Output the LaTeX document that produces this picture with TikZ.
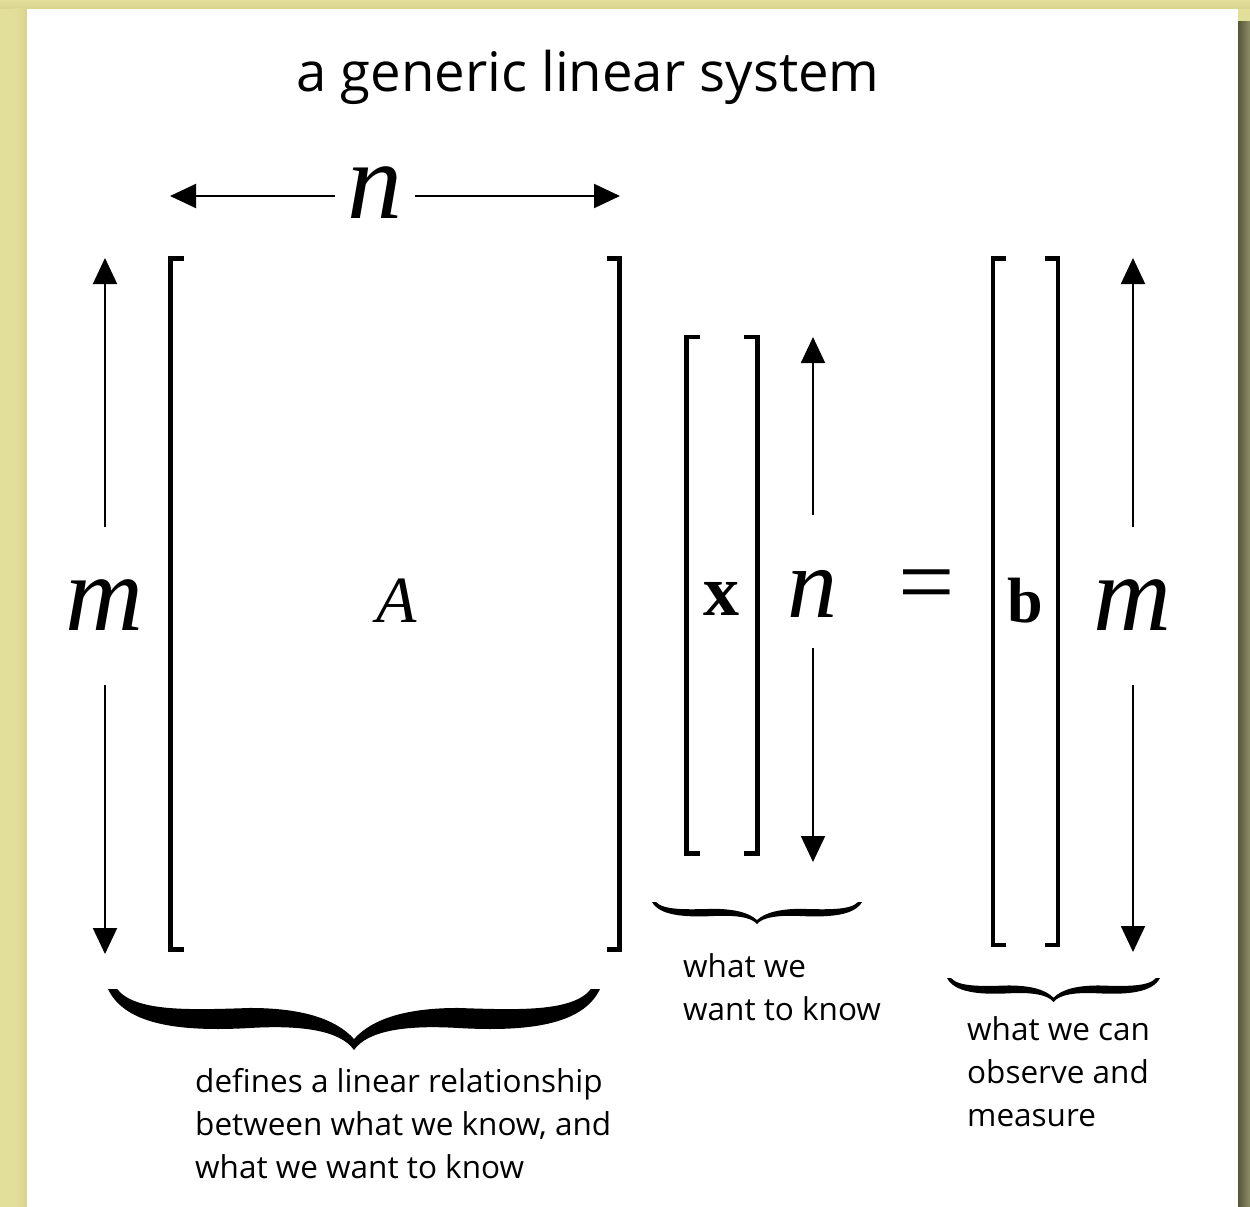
\documentclass[tikz,border=0pt]{standalone}
\usepackage{fontspec}
\newfontfamily\comicf{Open Sans}
\newfontfamily\tmsf{Liberation Serif}
\usetikzlibrary{arrows.meta}
\definecolor{bgkhaki}{HTML}{E2DF9B}
\definecolor{bgtop}{HTML}{D8D48F}
\definecolor{shdark}{HTML}{56563B}
\definecolor{shlight}{HTML}{8E8E68}
\newcommand\mybrace[4]{%
 \begin{scope}[shift={(#1,#2)}, xscale=#3, yscale=#4]
 \fill (-1,0) .. controls (-0.931,0.59) and (-0.707,0.705) .. (-0.423,0.639)
   .. controls (-0.22,0.59) and (-0.057,0.672) .. (0,1)
   .. controls (0.057,0.672) and (0.22,0.59) .. (0.423,0.639)
   .. controls (0.707,0.705) and (0.931,0.59) .. (1,0)
   -- (0.963,0) .. controls (0.89,0.377) and (0.667,0.344) .. (0.423,0.311)
   .. controls (0.22,0.311) and (0.077,0.475) .. (0,0.82)
   .. controls (-0.077,0.475) and (-0.22,0.311) .. (-0.423,0.311)
   .. controls (-0.667,0.344) and (-0.89,0.377) .. (-0.963,0) -- cycle;
 \end{scope}}
\begin{document}
\begin{tikzpicture}[x=1pt,y=-1pt,
  arr/.style={line width=2pt,-{Triangle[length=26pt,width=24pt]}},
  brk/.style={line width=4.5pt,line join=miter},
  titlef/.style={font=\comicf\fontsize{54.5}{64}\selectfont,inner sep=0pt},
  txt/.style={font=\comicf\fontsize{31.5}{43}\selectfont,align=left,inner sep=0pt},
  mit/.style={inner sep=0pt},
]
\useasboundingbox (0,0) rectangle (1250,1207);
\fill[bgkhaki] (0,0) rectangle (1250,1207);
\shade[top color=bgkhaki,bottom color=bgtop] (0,0) rectangle (1250,9);
\shade[left color=bgkhaki,right color=bgtop] (15,9) rectangle (27,1207);
\shade[left color=shdark,right color=shlight] (1238,22) rectangle (1250,1207);
\fill[white] (27,9) rectangle (1238,1207);

% title
\node[titlef,anchor=base] (title) at (588,92) {a generic linear system};

% math letters
\node[mit,font=\tmsf\itshape\fontsize{110}{110}\selectfont,anchor=base] (ntop) at (375,218) {n};
\node[mit,font=\tmsf\itshape\fontsize{108}{108}\selectfont,anchor=base] (mleft) at (104,630) {m};
\node[mit,font=\tmsf\itshape\fontsize{66}{66}\selectfont,anchor=base] (A) at (397,622) {A};
\node[mit,font=\tmsf\bfseries\fontsize{72}{72}\selectfont,anchor=base] (xv) at (721,615) {x};
\node[mit,font=\tmsf\itshape\fontsize{100}{100}\selectfont,anchor=base] (nside) at (812,617) {n};
\node[mit,font=\tmsf\fontsize{100}{100}\selectfont,anchor=base] (eq) at (927,615) {=};
\node[mit,font=\tmsf\bfseries\fontsize{64}{64}\selectfont,anchor=base] (bv) at (1025,622) {b};
\node[mit,font=\tmsf\itshape\fontsize{108}{108}\selectfont,anchor=base] (mright) at (1132,630) {m};

% top n arrows
\coordinate (ntopL) at (335,196); \coordinate (ntopR) at (415,196);
\coordinate (tipTL) at (170,196); \coordinate (tipTR) at (620,196);
\draw[arr] (ntopL) -- (tipTL);
\draw[arr] (ntopR) -- (tipTR);

% left m arrows
\coordinate (mlU) at (105,527); \coordinate (mlD) at (105,685);
\coordinate (tipLU) at (105,258); \coordinate (tipLD) at (105,954);
\draw[arr] (mlU) -- (tipLU);
\draw[arr] (mlD) -- (tipLD);

% side n arrows
\coordinate (nsU) at (813,515); \coordinate (nsD) at (813,648);
\coordinate (tipNU) at (813,337); \coordinate (tipND) at (813,862);
\draw[arr] (nsU) -- (tipNU);
\draw[arr] (nsD) -- (tipND);

% right m arrows
\coordinate (mrU) at (1133,527); \coordinate (mrD) at (1133,685);
\coordinate (tipRU) at (1133,258); \coordinate (tipRD) at (1133,952);
\draw[arr] (mrU) -- (tipRU);
\draw[arr] (mrD) -- (tipRD);

% brackets A
\draw[brk] (183.5,258.5) -- (170.5,258.5) -- (170.5,949.5) -- (183.5,949.5);
\draw[brk] (607,258.5) -- (619.5,258.5) -- (619.5,949.5) -- (607,949.5);
% brackets x
\draw[brk] (700,337) -- (686.5,337) -- (686.5,853.5) -- (700,853.5);
\draw[brk] (744,337) -- (757.5,337) -- (757.5,853.5) -- (744,853.5);
% brackets b
\draw[brk] (1006,258.5) -- (993,258.5) -- (993,945) -- (1006,945);
\draw[brk] (1045,258.5) -- (1058,258.5) -- (1058,945) -- (1045,945);

% braces
\mybrace{354}{989}{246}{61}
\mybrace{757}{902}{105}{22}
\mybrace{1053.5}{978}{106.5}{24}

% captions (base = baseline of last line)
\node[txt,anchor=base west] (capA) at (195,1178) {defines a linear relationship\\between what we know, and\\what we want to know};
\node[txt,anchor=base west] (capx) at (683,1020) {what we\\want to know};
\node[txt,anchor=base west] (capb) at (967,1126) {what we can\\observe and\\measure};
\end{tikzpicture}
\end{document}
